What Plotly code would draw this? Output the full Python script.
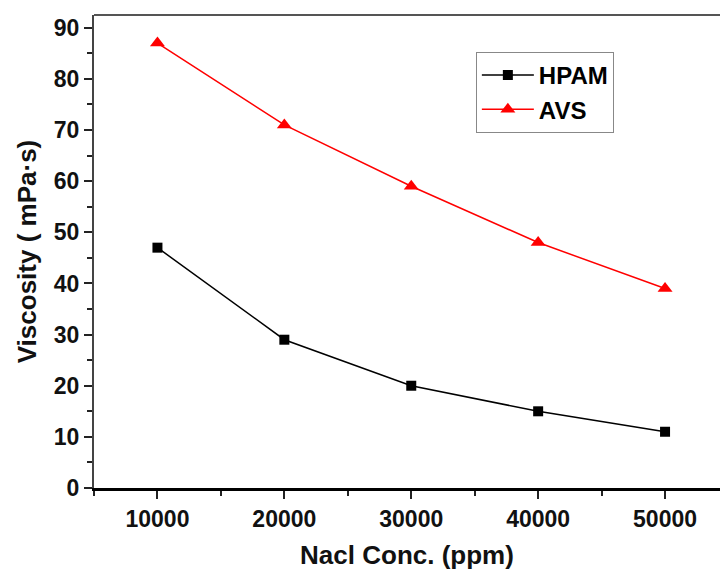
import plotly.graph_objects as go

conc = [10000, 20000, 30000, 40000, 50000]
hpam = [47, 29, 20, 15, 11]
avs = [87, 71, 59, 48, 39]
x_ticks = [10000, 20000, 30000, 40000, 50000]
x_labels = ["10000", "20000", "30000", "40000", "50000"]
y_ticks = [0, 10, 20, 30, 40, 50, 60, 70, 80, 90]

FONT = "Liberation Sans, Arial, sans-serif"

fig = go.Figure()
fig.add_trace(go.Scatter(x=conc, y=hpam, name="HPAM", mode="lines+markers",
                         line=dict(color="black", width=1.5),
                         marker=dict(symbol="square", size=10, color="black")))
fig.add_trace(go.Scatter(x=conc, y=avs, name="AVS", mode="lines+markers",
                         line=dict(color="red", width=1.5),
                         marker=dict(symbol="triangle-up", size=13, color="red")))

fig.update_layout(
    width=720, height=574,
    margin=dict(l=94, r=0, t=15, b=86),
    paper_bgcolor="white", plot_bgcolor="white",
    showlegend=True,
    legend=dict(x=0.61, y=0.922, xanchor="left", yanchor="top",
                bordercolor="#888", borderwidth=1, bgcolor="white",
                font=dict(family=FONT, size=24, color="black", weight="bold"),
                tracegroupgap=0, itemwidth=52),
    xaxis=dict(range=[5000, 54330], tickvals=x_ticks, ticktext=x_labels,
               ticks="outside", ticklen=8, tickwidth=2,
               tickcolor="#222", showline=True, linecolor="black", linewidth=3,
               showgrid=False, zeroline=False,
               tickfont=dict(family=FONT, size=23, color="#111", weight="bold"),
               minor=dict(dtick=5000, tick0=5000, ticks="outside", ticklen=5, tickwidth=2, tickcolor="#222", showgrid=False),
               title=dict(text="Nacl Conc. (ppm)", standoff=16,
                          font=dict(family=FONT, size=26, color="#111", weight="bold"))),
    yaxis=dict(range=[0, 92.5], tickvals=y_ticks, ticks="outside", ticklen=8, tickwidth=2,
               tickcolor="#222", showline=True, linecolor="#444", linewidth=2,
               showgrid=False, zeroline=False,
               tickfont=dict(family=FONT, size=23, color="#111", weight="bold"),
               minor=dict(dtick=5, tick0=0, ticks="outside", ticklen=5, tickwidth=2, tickcolor="#222", showgrid=False),
               title=dict(text="Viscosity ( mPa·s)", standoff=10,
                          font=dict(family=FONT, size=26, color="#111", weight="bold"))),
    shapes=[dict(type="line", xref="paper", yref="paper", x0=0, x1=1, y0=1, y1=1,
                 line=dict(color="#555", width=2))],
)

fig.write_html("out.html")
